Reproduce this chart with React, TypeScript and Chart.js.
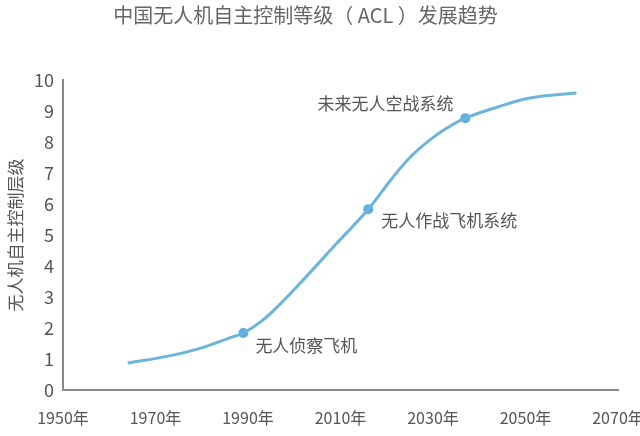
import React, { useEffect, useRef } from "react";
import { Chart, registerables } from "chart.js";

Chart.register(...registerables);

const titleText = "中国无人机自主控制等级（ ACL ）发展趋势";
const yAxisTitle = "无人机自主控制层级";
const xTickYears = [1950, 1970, 1990, 2010, 2030, 2050, 2070];
const yTicks = [0, 1, 2, 3, 4, 5, 6, 7, 8, 9, 10];

const curveYears = [1964, 1973, 1980, 1986, 1989, 1993, 1997, 2001, 2009, 2016, 2021, 2025, 2029, 2033, 2037, 2044, 2051, 2061];
const curveLevels = [0.87, 1.1, 1.36, 1.68, 1.84, 2.23, 2.78, 3.4, 4.7, 5.83, 6.8, 7.5, 8.03, 8.45, 8.77, 9.13, 9.42, 9.58];

const milestoneYears = [1989, 2016, 2037];
const milestoneLevels = [1.84, 5.83, 8.77];
const milestoneNames = ["无人侦察飞机", "无人作战飞机系统", "未来无人空战系统"];

const FONT = '"Noto Sans CJK SC", "Noto Sans", sans-serif';

const milestoneLabelPlugin = {
  id: "milestoneLabels",
  afterDatasetsDraw(chart: any) {
    const meta = chart.getDatasetMeta(1);
    const ctx = chart.ctx;
    // style offsets for each label relative to its marker
    const place = [
      { dx: 12, dy: 13, align: "left" },
      { dx: 13, dy: 11, align: "left" },
      { dx: -12, dy: -15, align: "right" },
    ];
    ctx.save();
    ctx.font = `17px ${FONT}`;
    ctx.fillStyle = "#555555";
    ctx.textBaseline = "middle";
    meta.data.forEach((pt: any, i: number) => {
      const p = place[i];
      ctx.textAlign = p.align;
      ctx.fillText(milestoneNames[i], pt.x + p.dx, pt.y + p.dy);
    });
    ctx.restore();
  },
};

export default function App() {
  const ref = useRef<HTMLCanvasElement>(null);
  useEffect(() => {
    if (!ref.current) return;
    const chart = new Chart(ref.current, {
      type: "line",
      data: {
        datasets: [
          {
            data: curveYears.map((x, i) => ({ x, y: curveLevels[i] })),
            borderColor: "#6cb4db",
            borderWidth: 3,
            pointRadius: 0,
            tension: 0.4,
            fill: false,
          },
          {
            data: milestoneYears.map((x, i) => ({ x, y: milestoneLevels[i] })),
            showLine: false,
            pointRadius: 5,
            pointBackgroundColor: "#5aaee0",
            pointBorderColor: "#5aaee0",
            pointBorderWidth: 0,
          },
        ],
      },
      options: {
        responsive: false,
        animation: false,
        layout: { padding: 0 },
        plugins: {
          legend: { display: false },
          tooltip: { enabled: false },
          title: {
            display: true,
            text: titleText + "\u3000  ",
            color: "#666666",
            font: { family: FONT, size: 20, weight: "normal" },
            padding: { top: 3, bottom: 53 },
          },
        },
        scales: {
          x: {
            type: "linear",
            min: 1950,
            max: 2070,
            afterBuildTicks: (scale: any) => {
              scale.ticks = xTickYears.map((v) => ({ value: v }));
            },
            afterFit: (scale: any) => {
              scale.paddingRight = 22;
              scale.height = 46;
            },
            ticks: {
              callback: (v: any) => `${v}年`,
              color: "#555555",
              font: { family: FONT, size: 16 },
              padding: 18,
              maxRotation: 0,
              autoSkip: false,
            },
            grid: { display: false, drawTicks: false },
            border: { display: true, color: "#8a8a8a", width: 2 },
          },
          y: {
            min: 0,
            max: 10,
            afterBuildTicks: (scale: any) => {
              scale.ticks = yTicks.map((v) => ({ value: v }));
            },
            afterFit: (scale: any) => {
              scale.width = 63;
            },
            ticks: {
              color: "#555555",
              font: { family: FONT, size: 18 },
              padding: 9,
            },
            grid: { display: false, drawTicks: false },
            border: { display: true, color: "#8a8a8a", width: 2 },
            title: {
              display: true,
              text: yAxisTitle,
              color: "#555555",
              font: { family: FONT, size: 17 },
              padding: { top: 5, bottom: 9 },
            },
          },
        },
      },
      plugins: [milestoneLabelPlugin],
    } as any);
    return () => chart.destroy();
  }, []);
  return (
    <div style={{ position: "absolute", left: 0, top: 0, width: 640, height: 436, background: "#fff" }}>
      <canvas ref={ref} width={640} height={436} style={{ display: "block" }} />
    </div>
  );
}
